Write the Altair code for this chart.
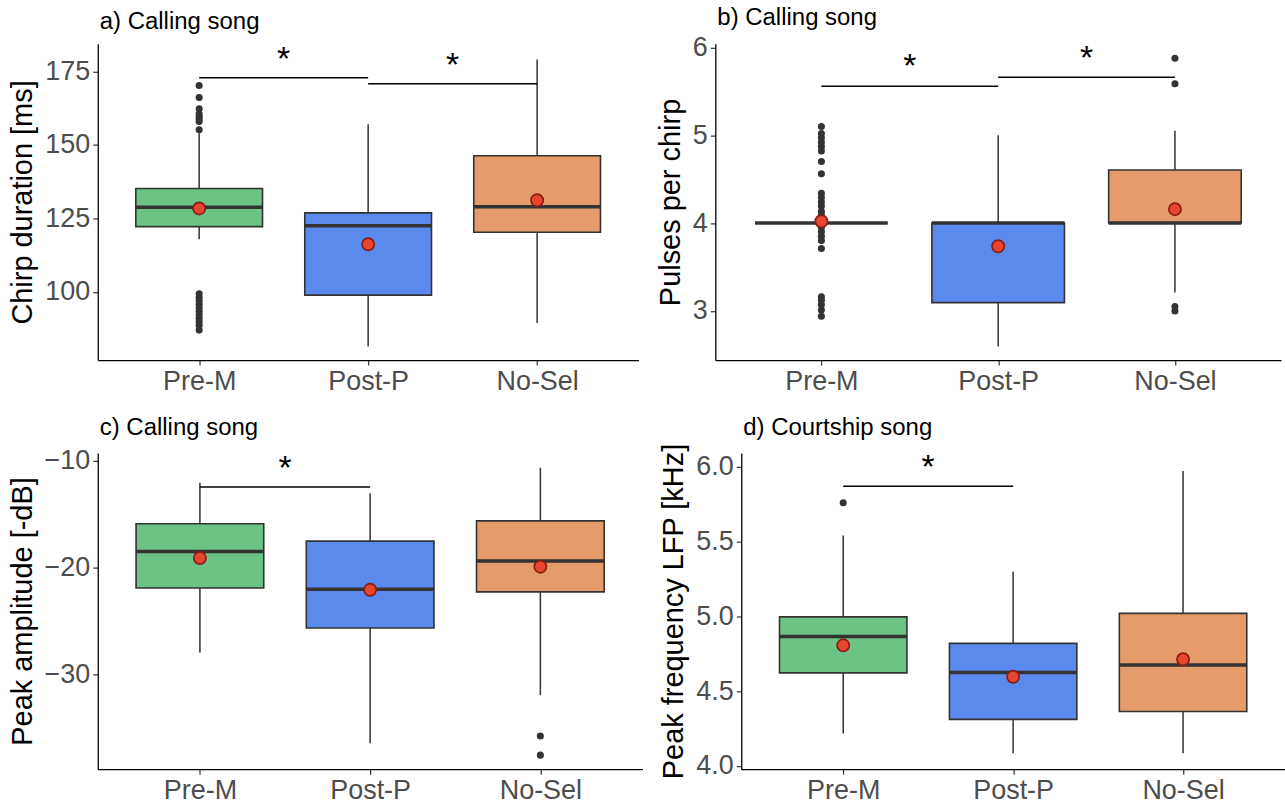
import json
import altair as alt
import pandas as pd

groups = ["Pre-M", "Post-P", "No-Sel"]
colors = ["#6CC386", "#5B8AEE", "#E59C6A"]
FONT = "Liberation Sans"

# ---------- a) Chirp duration ----------
a_lo = [117.9, 81.4, 89.4]
a_q1 = [122.2, 98.9, 120.3]
a_med = [128.8, 122.5, 129.0]
a_q3 = [135.2, 126.9, 146.3]
a_hi = [154.0, 157.0, 179.1]
a_mean = [128.4, 116.2, 131.2]
a_out_group = ["Pre-M"] * 19
a_out_value = [170.2, 166.1, 162.3, 160.5, 159.6, 158.8, 158.0, 155.2,
               99.4, 98.2, 97.0, 95.8, 94.6, 93.4, 92.2, 91.0, 89.8, 88.6, 87.0]
a_br_from = ["Pre-M", "Post-P"]
a_br_to = ["Post-P", "No-Sel"]
a_br_y = [172.9, 170.8]
a_star_y = [180.5, 178.7]

# ---------- b) Pulses per chirp ----------
b_lo = [4.0, 2.596, 3.21]
b_q1 = [4.0, 3.094, 4.0]
b_med = [4.0, 4.0, 4.0]
b_q3 = [4.0, 4.0, 4.604]
b_hi = [4.0, 5.0, 5.05]
b_mean = [4.02, 3.736, 4.158]
b_out_group = ["Pre-M"] * 24 + ["No-Sel"] * 4
b_out_value = [5.10, 5.02, 4.97, 4.92, 4.87, 4.82, 4.70, 4.56, 4.34, 4.29, 4.24, 4.19, 4.13, 4.09,
               3.95, 3.90, 3.85, 3.80, 3.71, 3.16, 3.12, 3.07, 3.01, 2.94,
               5.876, 5.585, 3.05, 3.0]
b_br_from = ["Pre-M", "Post-P"]
b_br_to = ["Post-P", "No-Sel"]
b_br_y = [5.558, 5.66]
b_star_y = [5.83, 5.92]

# ---------- c) Peak amplitude ----------
c_lo = [-27.98, -36.46, -31.96]
c_q1 = [-21.93, -25.68, -22.3]
c_med = [-18.51, -22.05, -19.41]
c_q3 = [-15.93, -17.55, -15.65]
c_hi = [-12.08, -13.07, -10.68]
c_mean = [-19.13, -22.1, -19.94]
c_out_group = ["No-Sel", "No-Sel"]
c_out_value = [-35.78, -37.58]
c_br_from = ["Pre-M"]
c_br_to = ["Post-P"]
c_br_y = [-12.48]
c_star_y = [-10.31]

# ---------- d) Peak frequency ----------
d_lo = [4.216, 4.084, 4.084]
d_q1 = [4.622, 4.311, 4.364]
d_med = [4.865, 4.625, 4.675]
d_q3 = [4.996, 4.819, 5.020]
d_hi = [5.541, 5.298, 5.971]
d_mean = [4.806, 4.596, 4.713]
d_out_group = ["Pre-M"]
d_out_value = [5.759]
d_br_from = ["Pre-M"]
d_br_to = ["Post-P"]
d_br_y = [5.870]
d_star_y = [6.026]


def make_panel(lo, q1, med, q3, hi, mean, out_g, out_v, br_from, br_to, br_y, star_y,
               ydomain, yticks, yfmt, ytitle, title, w, h, toff):
    idx = {g: i for i, g in enumerate(groups)}
    stats = pd.DataFrame({"group": groups, "xi": list(range(len(groups))),
                          "lo": lo, "q1": q1, "med": med, "q3": q3, "hi": hi, "mean": mean})
    outl = pd.DataFrame({"group": out_g, "v": out_v})
    outl["xi"] = outl["group"].map(idx)
    br = pd.DataFrame({"g1": br_from, "g2": br_to, "y": br_y, "sy": star_y})
    br["x1"] = br["g1"].map(idx)
    br["x2"] = br["g2"].map(idx)

    xscale = alt.Scale(domain=[-0.6, len(groups) - 0.4], nice=False, zero=False)
    xaxis = alt.Axis(values=list(range(len(groups))),
                     labelExpr=json.dumps(groups) + "[datum.value]",
                     title=None, grid=False, labelFlush=False, labelPadding=3)
    yscale = alt.Scale(domain=ydomain, nice=False, zero=False)
    yaxis = alt.Axis(values=yticks, format=yfmt, title=ytitle, grid=False,
                     labelFlush=False, labelPadding=3, titlePadding=7)

    def X(f):
        return alt.X(f, type="quantitative", scale=xscale, axis=xaxis)

    def Y(f):
        return alt.Y(f, type="quantitative", scale=yscale, axis=yaxis)

    base = alt.Chart(stats).transform_calculate(
        xl="datum.xi - 0.375", xr="datum.xi + 0.375")

    whisk_lo = alt.Chart(stats).mark_rule(color="#333333", strokeWidth=1.5).encode(
        x=X("xi"), y=Y("lo"), y2="q1")
    whisk_hi = alt.Chart(stats).mark_rule(color="#333333", strokeWidth=1.5).encode(
        x=X("xi"), y=Y("q3"), y2="hi")
    box = base.mark_bar(stroke="#333333", strokeWidth=1.6, opacity=1).encode(
        x=X("xl"), x2="xr", y=Y("q1"), y2="q3",
        color=alt.Color("group:N", scale=alt.Scale(domain=groups, range=colors), legend=None))
    medl = base.mark_rule(color="#333333", strokeWidth=3.5).encode(
        x=X("xl"), x2="xr", y=Y("med"))
    pts = alt.Chart(outl).mark_circle(color="#333333", size=50, opacity=1).encode(
        x=X("xi"), y=Y("v"))
    means = alt.Chart(stats).mark_point(shape="circle", filled=True, fill="#E8452F",
                                        stroke="#8A1C12", strokeWidth=1.7, size=150,
                                        opacity=1).encode(x=X("xi"), y=Y("mean"))
    brk = alt.Chart(br).mark_rule(color="black", strokeWidth=1.5).encode(
        x=X("x1"), x2="x2", y=Y("y"))
    stars = alt.Chart(br).transform_calculate(xm="(datum.x1 + datum.x2) / 2").mark_text(
        text="*", fontSize=34, color="black", baseline="middle", font=FONT, dy=5).encode(
        x=X("xm"), y=Y("sy"))

    return alt.layer(whisk_lo, whisk_hi, box, medl, pts, means, brk, stars).properties(
        width=w, height=h,
        title=alt.TitleParams(title, anchor="start", frame="group", fontSize=24,
                              fontWeight="normal", font=FONT, color="black", offset=toff, dx=2))


pa = make_panel(a_lo, a_q1, a_med, a_q3, a_hi, a_mean, a_out_group, a_out_value,
                a_br_from, a_br_to, a_br_y, a_star_y,
                [76.8, 184.4], [100, 125, 150, 175], "d", "Chirp duration [ms]",
                "a) Calling song", 542, 317, 9)
pb = make_panel(b_lo, b_q1, b_med, b_q3, b_hi, b_mean, b_out_group, b_out_value,
                b_br_from, b_br_to, b_br_y, b_star_y,
                [2.44, 6.04], [3, 4, 5, 6], "d", "Pulses per chirp",
                "b) Calling song", 567, 317, 3)
pc = make_panel(c_lo, c_q1, c_med, c_q3, c_hi, c_mean, c_out_group, c_out_value,
                c_br_from, c_br_to, c_br_y, c_star_y,
                [-38.89, -9.29], [-30, -20, -10], "d", "Peak amplitude [-dB]",
                "c) Calling song", 546, 317, 7)
pd_ = make_panel(d_lo, d_q1, d_med, d_q3, d_hi, d_mean, d_out_group, d_out_value,
                 d_br_from, d_br_to, d_br_y, d_star_y,
                 [3.978, 6.093], [4.0, 4.5, 5.0, 5.5, 6.0], ".1f", "Peak frequency LFP [kHz]",
                 "d) Courtship song", 545, 317, 3)

row1 = alt.hconcat(pa, pb, spacing=17)
row2 = alt.hconcat(pc, pd_, spacing=17)

chart = alt.vconcat(row1, row2, spacing=21).properties(
    padding={"left": 8, "top": 5, "right": 0, "bottom": 0},
    background="white",
).configure_view(stroke=None).configure_axis(
    domainColor="black", domainWidth=1.3, tickColor="#333333", tickWidth=1.2, tickSize=5,
    labelFont=FONT, labelFontSize=27, labelColor="#4D4D4D",
    titleFont=FONT, titleFontSize=29, titleFontWeight="normal", titleColor="black",
)

chart.save("out.html", embed_options={"renderer": "svg", "actions": False})
